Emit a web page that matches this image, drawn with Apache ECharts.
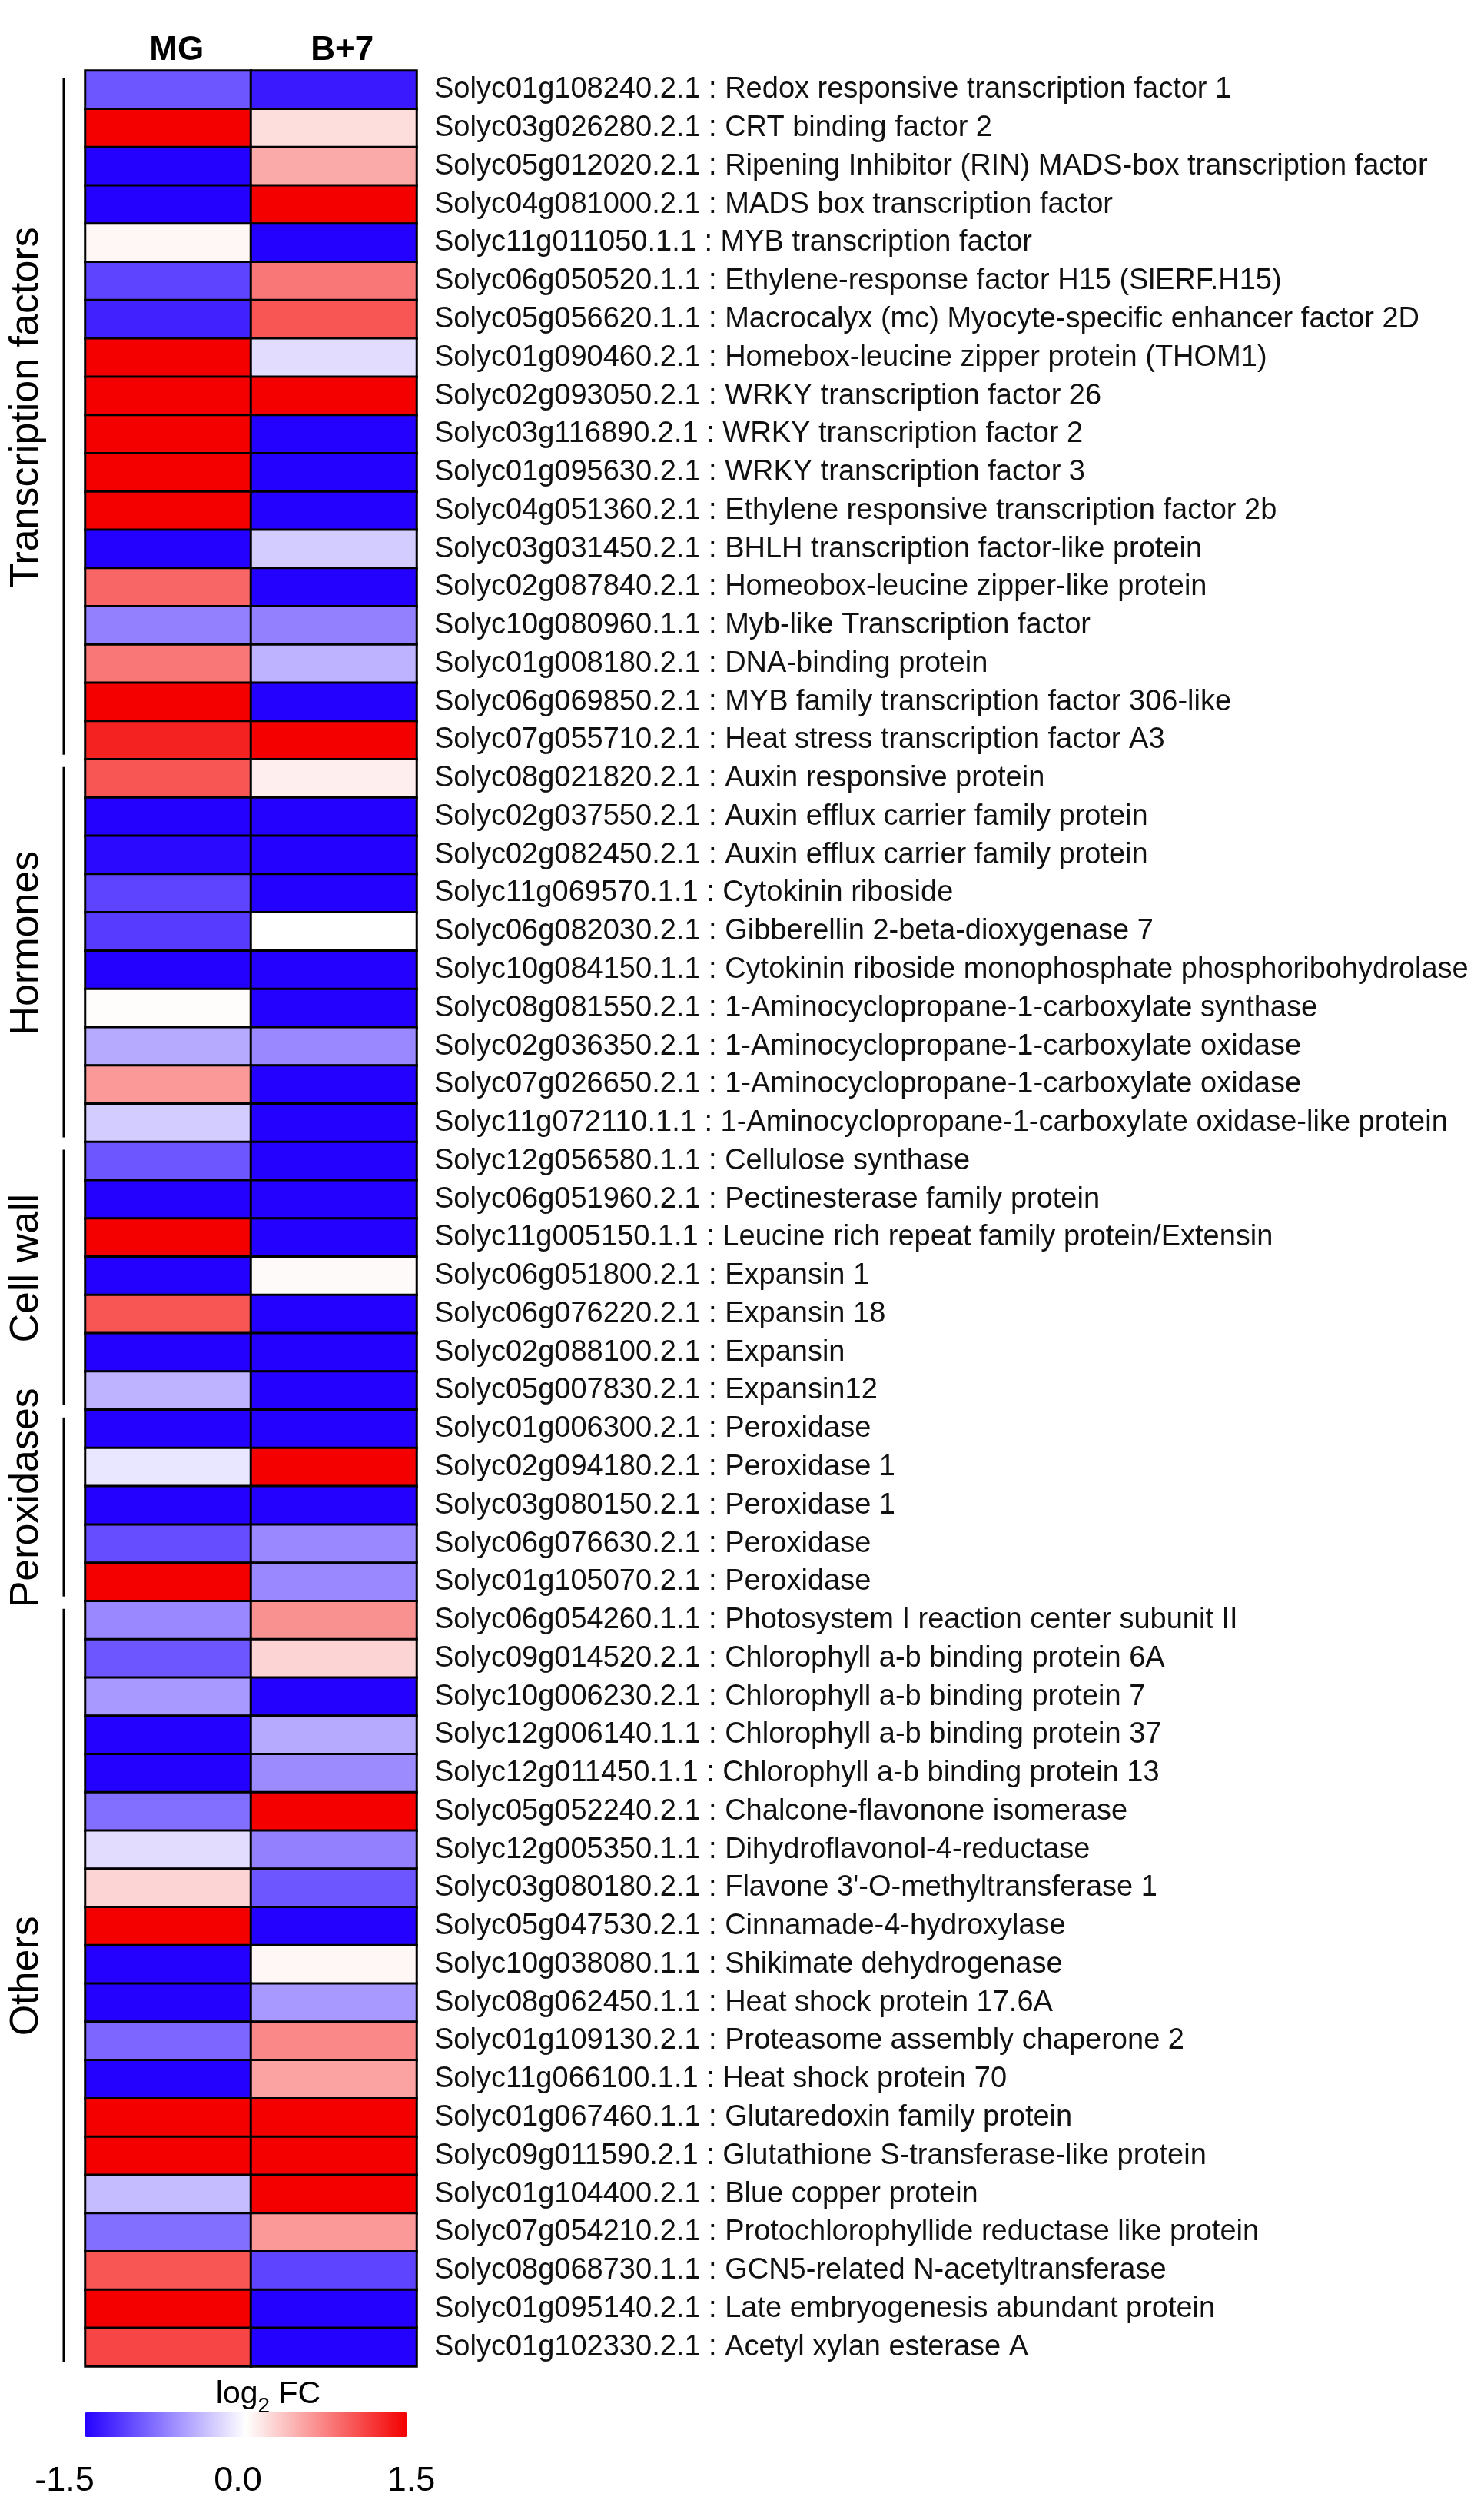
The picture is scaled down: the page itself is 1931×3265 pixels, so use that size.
<!DOCTYPE html>
<html>
<head>
<meta charset="utf-8">
<script src="https://cdn.jsdelivr.net/npm/echarts/dist/echarts.min.js"></script>
<style>
  html, body { margin: 0; padding: 0; background: #fff; }
  #chart { width: 1931px; height: 3265px; }
</style>
</head>
<body>
<div id="chart"></div>
<script>
const conditions = ['MG', 'B+7'];

const geneIds = [
  'Solyc01g108240.2.1','Solyc03g026280.2.1','Solyc05g012020.2.1','Solyc04g081000.2.1','Solyc11g011050.1.1',
  'Solyc06g050520.1.1','Solyc05g056620.1.1','Solyc01g090460.2.1','Solyc02g093050.2.1','Solyc03g116890.2.1',
  'Solyc01g095630.2.1','Solyc04g051360.2.1','Solyc03g031450.2.1','Solyc02g087840.2.1','Solyc10g080960.1.1',
  'Solyc01g008180.2.1','Solyc06g069850.2.1','Solyc07g055710.2.1','Solyc08g021820.2.1','Solyc02g037550.2.1',
  'Solyc02g082450.2.1','Solyc11g069570.1.1','Solyc06g082030.2.1','Solyc10g084150.1.1','Solyc08g081550.2.1',
  'Solyc02g036350.2.1','Solyc07g026650.2.1','Solyc11g072110.1.1','Solyc12g056580.1.1','Solyc06g051960.2.1',
  'Solyc11g005150.1.1','Solyc06g051800.2.1','Solyc06g076220.2.1','Solyc02g088100.2.1','Solyc05g007830.2.1',
  'Solyc01g006300.2.1','Solyc02g094180.2.1','Solyc03g080150.2.1','Solyc06g076630.2.1','Solyc01g105070.2.1',
  'Solyc06g054260.1.1','Solyc09g014520.2.1','Solyc10g006230.2.1','Solyc12g006140.1.1','Solyc12g011450.1.1',
  'Solyc05g052240.2.1','Solyc12g005350.1.1','Solyc03g080180.2.1','Solyc05g047530.2.1','Solyc10g038080.1.1',
  'Solyc08g062450.1.1','Solyc01g109130.2.1','Solyc11g066100.1.1','Solyc01g067460.1.1','Solyc09g011590.2.1',
  'Solyc01g104400.2.1','Solyc07g054210.2.1','Solyc08g068730.1.1','Solyc01g095140.2.1','Solyc01g102330.2.1'
];

const geneNames = [
  'Redox responsive transcription factor 1','CRT binding factor 2','Ripening Inhibitor (RIN) MADS-box transcription factor',
  'MADS box transcription factor','MYB transcription factor','Ethylene-response factor H15 (SlERF.H15)',
  'Macrocalyx (mc) Myocyte-specific enhancer factor 2D','Homebox-leucine zipper protein (THOM1)','WRKY transcription factor 26',
  'WRKY transcription factor 2','WRKY transcription factor 3','Ethylene responsive transcription factor 2b',
  'BHLH transcription factor-like protein','Homeobox-leucine zipper-like protein','Myb-like Transcription factor',
  'DNA-binding protein','MYB family transcription factor 306-like','Heat stress transcription factor A3',
  'Auxin responsive protein','Auxin efflux carrier family protein','Auxin efflux carrier family protein',
  'Cytokinin riboside','Gibberellin 2-beta-dioxygenase 7','Cytokinin riboside monophosphate phosphoribohydrolase',
  '1-Aminocyclopropane-1-carboxylate synthase','1-Aminocyclopropane-1-carboxylate oxidase','1-Aminocyclopropane-1-carboxylate oxidase',
  '1-Aminocyclopropane-1-carboxylate oxidase-like protein','Cellulose synthase','Pectinesterase family protein',
  'Leucine rich repeat family protein/Extensin','Expansin 1','Expansin 18',
  'Expansin','Expansin12','Peroxidase',
  'Peroxidase 1','Peroxidase 1','Peroxidase',
  'Peroxidase','Photosystem I reaction center subunit II','Chlorophyll a-b binding protein 6A',
  'Chlorophyll a-b binding protein 7','Chlorophyll a-b binding protein 37','Chlorophyll a-b binding protein 13',
  'Chalcone-flavonone isomerase','Dihydroflavonol-4-reductase',"Flavone 3'-O-methyltransferase 1",
  'Cinnamade-4-hydroxylase','Shikimate dehydrogenase','Heat shock protein 17.6A',
  'Proteasome assembly chaperone 2','Heat shock protein 70','Glutaredoxin family protein',
  'Glutathione S-transferase-like protein','Blue copper protein','Protochlorophyllide reductase like protein',
  'GCN5-related N-acetyltransferase','Late embryogenesis abundant protein','Acetyl xylan esterase A'
];

// log2 FC values (clamped at +/-1.5)
const mgValues = [
  -1.0, 1.5, -1.5, -1.5, 0.05, -1.1, -1.3, 1.5, 1.5, 1.5,
  1.5, 1.5, -1.5, 0.9, -0.75, 0.8, 1.5, 1.3, 1.0, -1.5,
  -1.45, -1.1, -1.15, -1.5, 0.02, -0.5, 0.6, -0.3, -1.0, -1.5,
  1.5, -1.5, 1.0, -1.5, -0.45, -1.5, -0.15, -1.5, -1.05, 1.5,
  -0.7, -1.0, -0.6, -1.5, -1.5, -0.85, -0.2, 0.25, 1.5, -1.5,
  -1.5, -0.9, -1.5, 1.5, 1.5, -0.4, -0.85, 1.0, 1.5, 1.1
];
const b7Values = [
  -1.35, 0.2, 0.5, 1.5, -1.5, 0.8, 1.0, -0.2, 1.5, -1.5,
  -1.5, -1.5, -0.3, -1.5, -0.75, -0.45, -1.5, 1.5, 0.1, -1.5,
  -1.5, -1.5, 0.0, -1.5, -1.5, -0.7, -1.5, -1.5, -1.5, -1.5,
  -1.5, 0.03, -1.5, -1.5, -1.5, -1.5, 1.5, -1.5, -0.7, -0.7,
  0.65, 0.25, -1.5, -0.5, -0.68, 1.5, -0.75, -1.0, -1.5, 0.05,
  -0.6, 0.7, 0.55, 1.5, 1.5, 1.5, 0.6, -1.1, -1.5, -1.5
];

const groupNames = ['Transcription factors', 'Hormones', 'Cell wall', 'Peroxidases', 'Others'];
const groupSizes = [18, 10, 7, 5, 20];

const colorbarTicks = [-1.5, 0.0, 1.5];

// ---- build library inputs ----
const categories = geneIds.map((id, i) => id + ' : ' + geneNames[i]);
const heatData = [];
categories.forEach((c, i) => {
  heatData.push([0, i, mgValues[i]]);
  heatData.push([1, i, b7Values[i]]);
});
const groupData = [];
let acc = 0;
groupSizes.forEach((n) => { groupData.push([0, acc, acc + n - 1]); acc += n; });

const FONT = "'Liberation Sans', Arial, Helvetica, sans-serif";
const chart = echarts.init(document.getElementById('chart'), null, { renderer: 'canvas' });

chart.setOption({
  backgroundColor: '#ffffff',
  animation: false,
  textStyle: { fontFamily: FONT, color: '#000' },
  grid: [
    { left: 111, top: 92, width: 431, height: 2986 },
    { left: 84, top: 3190, width: 451, height: 1 }
  ],
  xAxis: [
    {
      type: 'category', data: conditions, position: 'top', gridIndex: 0,
      axisLine: { show: false }, axisTick: { show: false }, splitLine: { show: false },
      axisLabel: { fontSize: 44, fontWeight: 'bold', color: '#000', margin: 4, fontFamily: FONT, padding: [0, 0, 0, 22] }
    },
    {
      type: 'value', gridIndex: 1, min: colorbarTicks[0], max: colorbarTicks[2],
      interval: colorbarTicks[1] - colorbarTicks[0],
      axisLine: { show: false }, axisTick: { show: false }, splitLine: { show: false },
      axisLabel: { fontSize: 45, color: '#000', margin: 14, fontFamily: FONT,
        formatter: (v) => v.toFixed(1) }
    }
  ],
  yAxis: [
    {
      type: 'category', data: categories, inverse: true, position: 'right', gridIndex: 0,
      axisLine: { show: false }, axisTick: { show: false }, splitLine: { show: false },
      axisLabel: { interval: 0, fontSize: 38, color: '#111', margin: 23, fontFamily: FONT }
    },
    { type: 'value', gridIndex: 1, show: false }
  ],
  visualMap: {
    type: 'continuous', seriesIndex: 0, dimension: 2,
    min: colorbarTicks[0], max: colorbarTicks[2],
    orient: 'horizontal', left: 110, top: 3138, itemWidth: 32, itemHeight: 420,
    calculable: false, padding: 0, realtime: false,
    inRange: { color: ['#2400ff', '#ffffff', '#f40000'] }
  },
  graphic: [
    {
      type: 'text', x: 349, y: 3094,
      style: {
        text: '{a|log}{s|2}{a| FC}', align: 'center', verticalAlign: 'top',
        rich: {
          a: { fontSize: 41, fontFamily: FONT, fill: '#000', lineHeight: 50, verticalAlign: 'top' },
          s: { fontSize: 28, fontFamily: FONT, fill: '#000', lineHeight: 50, verticalAlign: 'bottom' }
        }
      }
    }
  ],
  series: [
    {
      type: 'heatmap', xAxisIndex: 0, yAxisIndex: 0, data: heatData,
      itemStyle: { borderColor: '#000', borderWidth: 3 },
      emphasis: { disabled: true }, progressive: 0
    },
    {
      type: 'custom', xAxisIndex: 0, yAxisIndex: 0, data: groupData,
      encode: { x: 0, y: 1 }, clip: false, silent: true,
      renderItem: function (params, api) {
        const s = api.value(1), e = api.value(2);
        const half = api.size([0, 1])[1] / 2;
        const y0 = api.coord([0, s])[1] - half;
        const y1 = api.coord([0, e])[1] + half;
        const gx = params.coordSys.x;
        return {
          type: 'group',
          children: [
            { type: 'line', shape: { x1: gx - 28, y1: y0 + 10, x2: gx - 28, y2: y1 - 6 },
              style: { stroke: '#000', lineWidth: 3 } },
            { type: 'text', x: gx - 76, y: (y0 + y1) / 2 - 10, rotation: Math.PI / 2,
              style: { text: groupNames[params.dataIndex], fontSize: 52, fontFamily: FONT,
                fill: '#000', align: 'center', verticalAlign: 'middle' } }
          ]
        };
      }
    }
  ]
});
</script>
</body>
</html>
